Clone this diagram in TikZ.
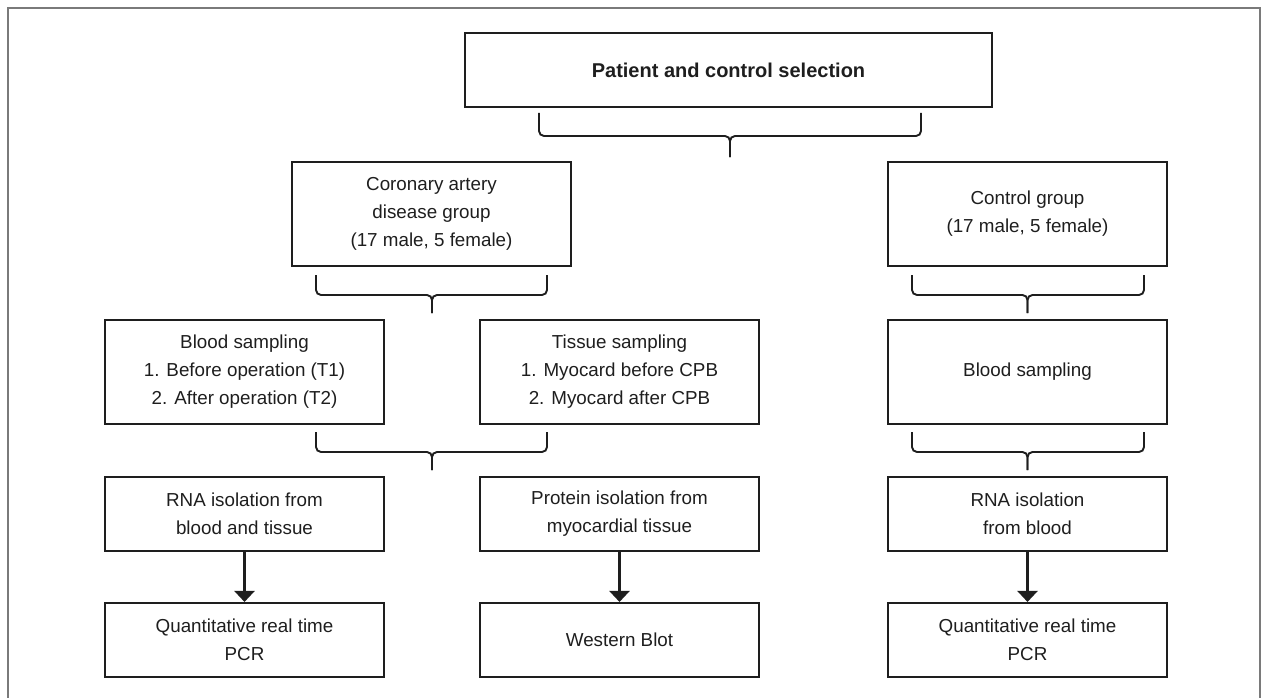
\documentclass[tikz,border=0pt]{standalone}
\usepackage{fontspec}
\setmainfont{Liberation Sans}
\usetikzlibrary{arrows.meta}
\definecolor{ink}{HTML}{1E1E1E}
\definecolor{framegray}{HTML}{7A7A7A}
\begin{document}
\begin{tikzpicture}[x=1pt,y=-1pt,
  box/.style={draw=ink,line width=2.1pt,text=ink,align=center,inner sep=0pt,
    minimum width=279pt,minimum height=104pt,font=\fontsize{18.8}{28}\selectfont},
  shortbox/.style={box,minimum height=74pt},
  bracket/.style={draw=ink,line width=1.9pt,rounded corners=5pt},
  flow/.style={draw=ink,line width=2.4pt,-{Triangle[length=11pt,width=20pt]}}]
\useasboundingbox (0,0) rectangle (1266,698);
\draw[framegray,line width=1.6pt] (8,698) -- (8,8) -- (1260,8) -- (1260,698);
% boxes
\node[box,minimum width=527pt,minimum height=74pt,font=\fontsize{20}{24}\selectfont\bfseries] (top) at (728.5,70) {Patient and control selection};
\node[box] (cad) at (431.5,214) {Coronary artery\\disease group\\(17 male, 5 female)};
\node[box] (ctrl) at (1027.5,214) {Control group\\(17 male, 5 female)};
\node[box] (blood) at (244.5,372) {Blood sampling\\1. Before operation (T1)\\2. After operation (T2)};
\node[box] (tissue) at (619.5,372) {Tissue sampling\\1. Myocard before CPB\\2. Myocard after CPB};
\node[box] (cblood) at (1027.5,372) {Blood sampling};
\node[shortbox] (rna) at (244.5,514) {RNA isolation from\\blood and tissue};
\node[shortbox] (prot) at (619.5,514) {Protein isolation from\\myocardial tissue};
\node[shortbox] (crna) at (1027.5,514) {RNA isolation\\from blood};
\node[shortbox] (q1) at (244.5,640) {Quantitative real time\\PCR};
\node[shortbox] (wb) at (619.5,640) {Western Blot};
\node[shortbox] (q2) at (1027.5,640) {Quantitative real time\\PCR};
% brackets
\coordinate (b1) at (730,157);
\draw[bracket] (539,113) -- (539,136) -- (730,136) -- (b1);
\draw[bracket] (921,113) -- (921,136) -- (730,136) -- (b1);
\coordinate (b2) at (432,313);
\draw[bracket] (316,275) -- (316,295) -- (432,295) -- (b2);
\draw[bracket] (547,275) -- (547,295) -- (432,295) -- (b2);
\coordinate (b3) at (432,470);
\draw[bracket] (316,432) -- (316,452) -- (432,452) -- (b3);
\draw[bracket] (547,432) -- (547,452) -- (432,452) -- (b3);
\coordinate (c1) at (1027.5,313);
\draw[bracket] (912,275) -- (912,295) -- (1027.5,295) -- (c1);
\draw[bracket] (1144,275) -- (1144,295) -- (1027.5,295) -- (c1);
\coordinate (c2) at (1027.5,470);
\draw[bracket] (912,432) -- (912,452) -- (1027.5,452) -- (c2);
\draw[bracket] (1144,432) -- (1144,452) -- (1027.5,452) -- (c2);
% arrows
\draw[flow] (rna) -- (q1);
\draw[flow] (prot) -- (wb);
\draw[flow] (crna) -- (q2);
\end{tikzpicture}
\end{document}
